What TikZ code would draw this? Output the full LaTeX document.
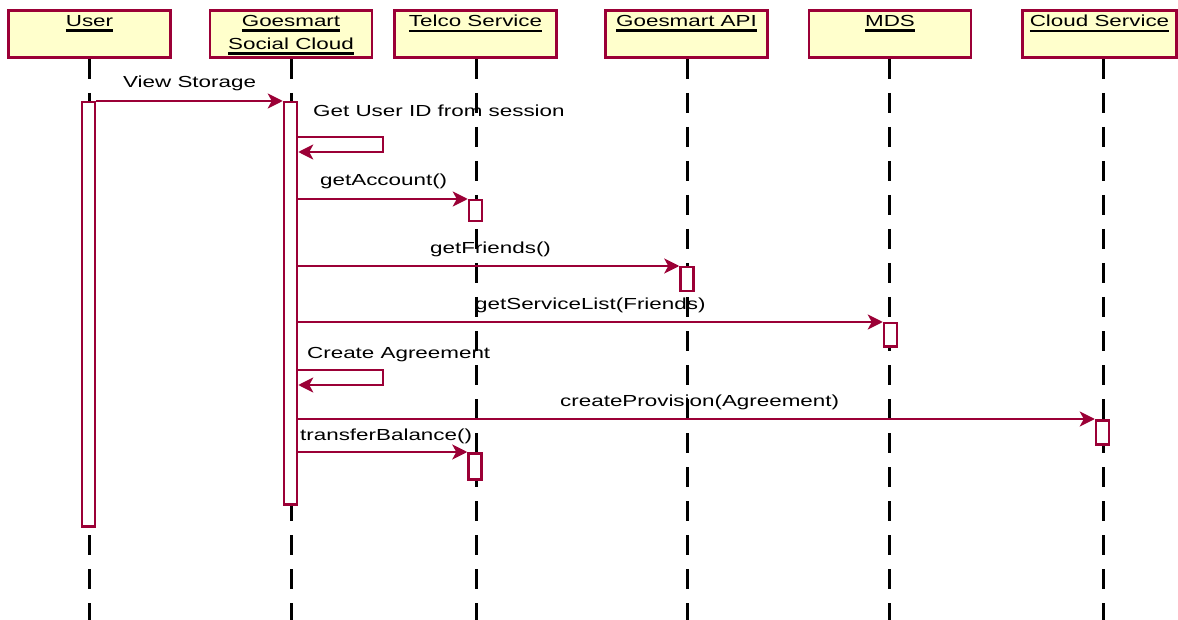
\documentclass[tikz,border=0pt]{standalone}
\usepackage{fontspec}
\setmainfont{Liberation Sans}[FakeStretch=1.4]
\usetikzlibrary{arrows.meta}
\definecolor{seqred}{HTML}{9B0036}
\definecolor{seqfill}{HTML}{FFFFCC}
% underlined object name
\newcommand\objname[1]{\leavevmode\vtop{\hbox{#1}\kern2.5pt\hrule height 2.6pt}}

\begin{document}
\begin{tikzpicture}[x=1pt, y=-1pt,
    head/.style = {draw=seqred, fill=seqfill, line width=2.7pt, minimum width=162, minimum height=47, inner sep=0},
    title/.style = {anchor=north, align=center, inner sep=6pt, font=\fontsize{16}{23}\selectfont},
    life/.style = {draw=black, line width=3pt, dash pattern=on 20pt off 14pt},
    act/.style = {draw=seqred, fill=white, line width=2.5pt, minimum width=13, inner sep=0, anchor=north},
    msg/.style = {draw=seqred, line width=2.2pt, -{Stealth[length=15pt,width=15pt,inset=4pt]}},
    mlabel/.style = {anchor=base west, inner sep=0, font=\fontsize{16}{19}\selectfont}]
    \useasboundingbox (0,0) rectangle (1178,620);

    % objects
    \node[head, label={[title]north:\objname{User}}] (hU) at (89.5,34) {};
    \node[head, label={[title]north:{\objname{Goesmart}\\\objname{Social Cloud}}}] (hSC) at (291,34) {};
    \node[head, label={[title]north:\objname{Telco Service}}] (hT) at (475.5,34) {};
    \node[head, label={[title]north:\objname{Goesmart API}}] (hAPI) at (686.5,34) {};
    \node[head, label={[title]north:\objname{MDS}}] (hMDS) at (890,34) {};
    \node[head, minimum width=154, label={[title]north:\objname{Cloud Service}}] (hCS) at (1099.5,34) {};

    % lifelines
    \coordinate (bottom) at (0,620);
    \coordinate (tU) at (89,59);
    \coordinate (tSC) at (291,59);
    \coordinate (tT) at (476,59);
    \coordinate (tAPI) at (687,59);
    \coordinate (tMDS) at (889,59);
    \coordinate (tCS) at (1103,59);
    \foreach \l in {tU,tSC,tT,tAPI,tMDS,tCS}
        \draw[life] (\l) -- (\l |- bottom);

    % activations
    \node[act, minimum height=424] (aU) at (88.5,101) {};
    \node[act, minimum height=402] (aSC) at (290.5,101) {};
    \node[act, minimum height=21] (aT1) at (475.5,199) {};
    \node[act, minimum height=24] (aAPI) at (687,266) {};
    \node[act, minimum height=23] (aMDS) at (890.5,322) {};
    \node[act, minimum height=24] (aCS) at (1102.5,419) {};
    \node[act, minimum height=26] (aT2) at (475,452) {};

    % messages
    \coordinate (s1a) at (383,137);
    \coordinate (s1b) at (383,152);
    \coordinate (s2a) at (383,370);
    \coordinate (s2b) at (383,385);
    \draw[msg] (aU.east |- aSC.north) -- (aSC.north west);
    \draw[msg] (aSC.east |- s1a) -- (s1a) -- (s1b) -- (aSC.east |- s1b);
    \draw[msg] (aSC.east |- aT1.north) -- (aT1.north west);
    \draw[msg] (aSC.east |- aAPI.north) -- (aAPI.north west);
    \draw[msg] (aSC.east |- aMDS.north) -- (aMDS.north west);
    \draw[msg] (aSC.east |- s2a) -- (s2a) -- (s2b) -- (aSC.east |- s2b);
    \draw[msg] (aSC.east |- aCS.north) -- (aCS.north west);
    \draw[msg] (aSC.east |- aT2.north) -- (aT2.north west);

    % message labels
    \node[mlabel] (lView) at (123,88) {View Storage};
    \node[mlabel] (lUserID) at (313,117) {Get User ID from session};
    \node[mlabel] (lAccount) at (320,186) {getAccount()};
    \node[mlabel] (lFriends) at (430,254) {getFriends()};
    \node[mlabel] (lServices) at (475,310) {getServiceList(Friends)};
    \node[mlabel] (lAgreement) at (307,358) {Create Agreement};
    \node[mlabel] (lProvision) at (560,406) {createProvision(Agreement)};
    \node[mlabel] (lBalance) at (300,440) {transferBalance()};
\end{tikzpicture}
\end{document}
